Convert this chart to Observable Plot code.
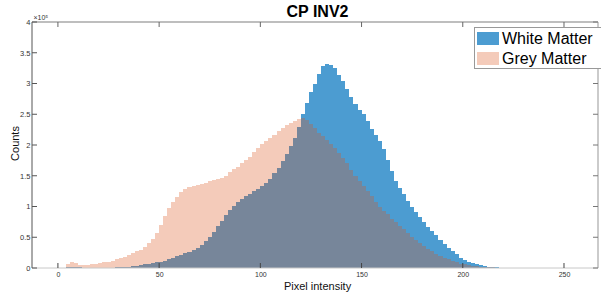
<!DOCTYPE html>
<html><head><meta charset="utf-8">
<script src="https://cdn.jsdelivr.net/npm/d3@7"></script>
<script src="https://cdn.jsdelivr.net/npm/@observablehq/plot@0.6"></script>
<style>body{margin:0;background:#fff} svg{display:block}</style>
</head><body><div id="chart"></div>
<script>
// Bin left edges (pixel intensity), width 2
const binWidth = 2;
const binEdges = d3.range(0, 250, binWidth);
// Counts in units of 10^5
const whiteMatter = [
0,0,0.01,0.02,0.02,0.012,0.008,0.006,0.005,0.005,
0.005,0.006,0.007,0.008,0.009,0.010,0.015,0.02,0.03,0.04,
0.05,0.06,0.07,0.08,0.09,0.10,0.12,0.14,0.16,0.19,
0.21,0.24,0.265,0.29,0.32,0.37,0.44,0.51,0.59,0.68,
0.77,0.86,0.94,1.01,1.07,1.12,1.17,1.21,1.25,1.29,
1.33,1.38,1.45,1.54,1.63,1.74,1.86,1.98,2.12,2.30,
2.50,2.68,2.86,3.00,3.16,3.28,3.32,3.30,3.25,3.14,
3.04,2.91,2.78,2.67,2.57,2.50,2.39,2.26,2.16,2.06,
1.93,1.76,1.58,1.42,1.30,1.21,1.09,1.00,0.91,0.83,
0.75,0.66,0.60,0.53,0.46,0.39,0.33,0.27,0.22,0.17,
0.13,0.10,0.08,0.06,0.045,0.033,0.022,0.016,0.012,0.008,
0.006,0.005,0.004,0.003,0.003,0.002,0.002,0.0015,0.001,0.001,
0.0008,0.0006,0.0004,0.0002,0];
const greyMatter = [
0,0,0.065,0.09,0.075,0.05,0.05,0.055,0.06,0.07,
0.076,0.09,0.10,0.12,0.14,0.16,0.18,0.21,0.24,0.27,
0.30,0.34,0.40,0.47,0.57,0.70,0.84,0.97,1.07,1.16,
1.23,1.28,1.31,1.33,1.35,1.37,1.39,1.41,1.43,1.45,
1.47,1.50,1.56,1.61,1.65,1.70,1.76,1.81,1.88,1.95,
2.01,2.07,2.12,2.17,2.23,2.28,2.32,2.35,2.39,2.43,
2.44,2.40,2.34,2.27,2.20,2.14,2.08,2.02,1.95,1.87,
1.79,1.70,1.59,1.50,1.42,1.34,1.25,1.17,1.08,1.00,
0.93,0.87,0.80,0.74,0.69,0.63,0.57,0.51,0.455,0.41,
0.36,0.31,0.27,0.23,0.20,0.17,0.14,0.11,0.09,0.07,
0.06,0.045,0.035,0.03,0.022,0.018,0.014,0.010,0.007,0.005,
0.004,0.003,0.003,0.002,0.002,0.002,0.0015,0.001,0.001,0.001,
0.0008,0.0006,0.0004,0.0002,0];
const xTicks = [0, 50, 100, 150, 200, 250];
const yTicks = [0, 0.5, 1, 1.5, 2, 2.5, 3, 3.5, 4];
const seriesNames = ["White Matter", "Grey Matter"];
const seriesColors = ["#0072BD", "#D95319"];
const seriesOpacity = [0.7, 0.3];
const titleText = "CP INV2";
const xLabel = "Pixel intensity";
const yLabel = "Counts";
const yExponent = "×10⁵";
const xDomain = [-12.8, 266.8];
const yDomain = [0, 4];

const rows = vals => binEdges.map((b, i) => ({x1: b, x2: b + binWidth, y: vals[i]}));
const font = "'Liberation Sans', Arial, Helvetica, sans-serif";

const plot = Plot.plot({
  width: 601, height: 292,
  marginLeft: 32, marginRight: 3, marginTop: 22, marginBottom: 24,
  style: {fontFamily: font, background: "#fff", color: "#333"},
  x: {domain: xDomain},
  y: {domain: yDomain},
  marks: [
    Plot.rectY(rows(whiteMatter), {x1: "x1", x2: "x2", y: "y", fill: seriesColors[0], fillOpacity: seriesOpacity[0], shapeRendering: "crispEdges"}),
    Plot.rectY(rows(greyMatter), {x1: "x1", x2: "x2", y: "y", fill: seriesColors[1], fillOpacity: seriesOpacity[1], shapeRendering: "crispEdges"}),
    Plot.axisX({ticks: xTicks, tickSize: 0, tickPadding: 4, fontSize: 7, label: null, fill: "#333"}),
    Plot.axisY({ticks: yTicks, tickSize: 0, tickPadding: 2, fontSize: 7.5, label: null, tickFormat: d => String(d), fill: "#333"}),
    Plot.text([xLabel], {frameAnchor: "bottom", lineAnchor: "middle", dy: 18, dx: 2, fontSize: 11, fill: "#111"}),
    Plot.text([yLabel], {frameAnchor: "left", lineAnchor: "middle", textAnchor: "middle", dx: -17, dy: -2, rotate: -90, fontSize: 11, fill: "#111"}),
    Plot.text([titleText], {frameAnchor: "top", lineAnchor: "middle", dy: -11, dx: 2, fontSize: 16, fontWeight: "bold", fill: "#000"}),
    Plot.text([yExponent], {frameAnchor: "top-left", lineAnchor: "middle", dx: 1, dy: -5, fontSize: 7, textAnchor: "start", fill: "#333"})
  ]
});

// Box, inward ticks, legend — positioned via the plot's own scales
const xs = plot.scale("x"), ys = plot.scale("y");
const svg = d3.select(plot);
const L = xs.apply(xDomain[0]), R = xs.apply(xDomain[1]);
const B = ys.apply(yDomain[0]), T = ys.apply(yDomain[1]);
const g = svg.append("g");
g.append("line").attr("x1", L).attr("x2", R).attr("y1", B).attr("y2", B).attr("stroke", "#c8c8c8").attr("stroke-width", 1);
g.append("line").attr("x1", L).attr("x2", R).attr("y1", T).attr("y2", T).attr("stroke", "#a8a8a8").attr("stroke-width", 1.6);
g.append("line").attr("x1", R).attr("x2", R).attr("y1", T).attr("y2", B).attr("stroke", "#a8a8a8").attr("stroke-width", 1.2);
g.append("line").attr("x1", L).attr("x2", L).attr("y1", T).attr("y2", B).attr("stroke", "#555").attr("stroke-width", 1);
for (const t of yTicks) {
  const y = ys.apply(t);
  g.append("line").attr("x1", L).attr("x2", L + 5).attr("y1", y).attr("y2", y).attr("stroke", "#555");
  g.append("line").attr("x1", R).attr("x2", R - 5).attr("y1", y).attr("y2", y).attr("stroke", "#777");
}
for (const t of xTicks) {
  const x = xs.apply(t);
  g.append("line").attr("x1", x).attr("x2", x).attr("y1", B).attr("y2", B - 5).attr("stroke", "#444");
  g.append("line").attr("x1", x).attr("x2", x).attr("y1", T).attr("y2", T + 5).attr("stroke", "#666");
}
// Legend
const lg = svg.append("g").attr("text-anchor", "start");
lg.append("rect").attr("x", 474.5).attr("y", 27.5).attr("width", 130).attr("height", 41)
  .attr("fill", "#fff").attr("stroke", "#999").attr("stroke-width", 1);
seriesNames.forEach((name, i) => {
  const cy = 38.5 + i * 20;
  lg.append("rect").attr("x", 477).attr("y", cy - 6.5).attr("width", 22).attr("height", 13)
    .attr("fill", seriesColors[i]).attr("fill-opacity", seriesOpacity[i]);
  lg.append("text").attr("x", 502).attr("y", cy).attr("dy", "0.35em").attr("text-anchor", "start")
    .attr("font-size", 16).attr("font-family", font).attr("fill", "#000").text(name);
});
document.getElementById("chart").appendChild(plot);
</script>
</body></html>
